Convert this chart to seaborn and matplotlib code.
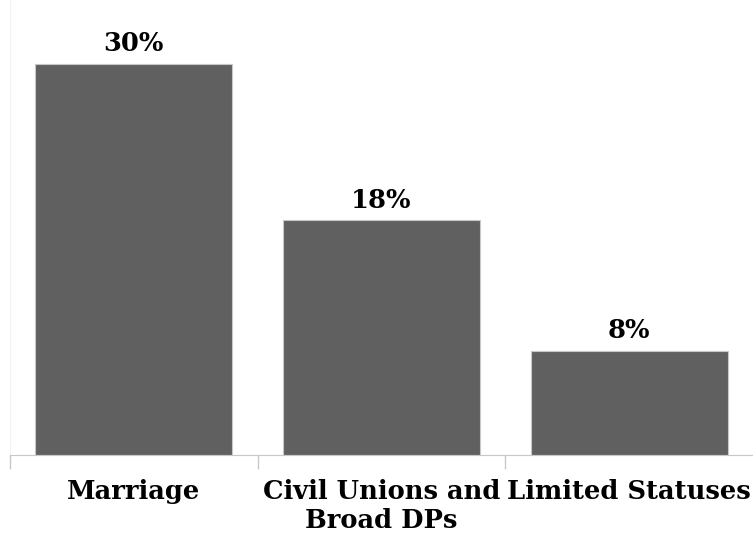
import matplotlib
matplotlib.use("Agg")
import matplotlib.pyplot as plt
import seaborn as sns
import pandas as pd

# data
categories = ["Marriage", "Civil Unions and\nBroad DPs", "Limited Statuses"]
values = [30, 18, 8]
value_labels = ["30%", "18%", "8%"]

df = pd.DataFrame({"cat": categories, "val": values})

sns.set_style("white")
plt.rcParams['font.family'] = ['DejaVu Serif']

fig = plt.figure(figsize=(7.53, 5.35), dpi=100)
ax = fig.add_axes([10/753, 80/535, 743/753, 455/535])

sns.barplot(data=df, x="cat", y="val", color="#606060", width=0.795,
            edgecolor="#c8c8c8", linewidth=0.8, saturation=1, ax=ax)

ax.set_ylim(0, 34.9)
ax.set_xlim(-0.5, 2.5)
ax.set_xlabel("")
ax.set_ylabel("")
ax.set_yticks([])

# category boundary ticks like the original
ax.set_xticks([-0.5, 0.5, 1.5])
ax.set_xticklabels([])
ax.tick_params(axis="x", direction="out", length=10, width=1, color="#c8c8c8", bottom=True)
for i, c in enumerate(categories):
    ax.text(i, -1.85, c, ha="center", va="top", fontsize=18.5, fontweight="bold",
            linespacing=1.2, color="black")

for i, (v, lab) in enumerate(zip(values, value_labels)):
    ax.text(i, v + 0.6, lab, ha="center", va="bottom", fontsize=18.5, fontweight="bold",
            color="black")

sns.despine(ax=ax, top=True, right=True)
ax.spines["bottom"].set_color("#c8c8c8")
ax.spines["left"].set_color("#f2f2f2")

fig.savefig("out.png", dpi=100)
